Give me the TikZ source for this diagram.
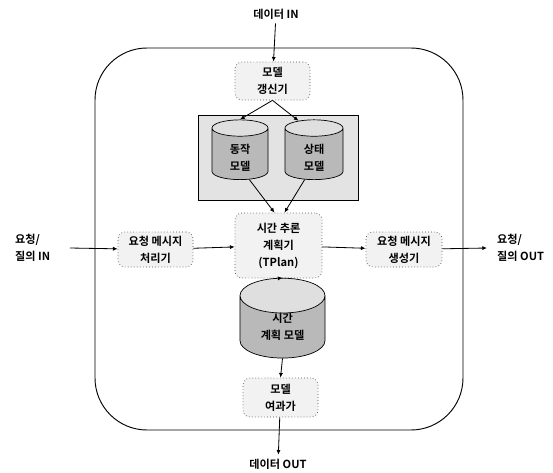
\documentclass[tikz,border=0pt]{standalone}
\usepackage{fontspec}
\setmainfont{Noto Sans CJK KR}[BoldFont={Noto Sans CJK KR Bold}]
\usetikzlibrary{shapes.geometric,arrows.meta}

\begin{document}
\begin{tikzpicture}[%
    x=0.03cm, y=-0.03cm,
    font=\fontsize{9.5}{14.5}\selectfont\bfseries,
    proc/.style={draw=black!70, dotted, line width=0.6pt, fill=gray!10, rounded corners=6pt, align=center, inner sep=1pt},
    store/.style={cylinder, shape border rotate=90, aspect=0.8, draw, line width=0.6pt, cylinder uses custom fill, cylinder body fill=gray!55, cylinder end fill=gray!25, align=center, inner sep=0pt},
    flow/.style={-{Latex[length=4pt,width=3.5pt]}, line width=0.7pt},
    ]
    \useasboundingbox (0,0) rectangle (553,473);
    \draw[line width=0.8pt, rounded corners=1.56cm] (95,48) rectangle (463,430);
    \node (datain) at (276,14) {데이터 IN};
    \node[proc, minimum width=2.25cm, minimum height=1.14cm] (updater) at (272.5,81) {모델\\갱신기};
    \node[draw, line width=0.6pt, fill=gray!22, minimum width=4.8cm, minimum height=2.55cm] (modelbox) at (278,157.5) {};
    \node[store, minimum width=1.68cm, minimum height=1.74cm] (dong) at (240,154) {\\동작\\모델};
    \node[store, minimum width=1.74cm, minimum height=1.74cm] (sang) at (314,154) {\\상태\\모델};
    \node[proc, minimum width=2.61cm, minimum height=1.95cm] (tplan) at (278.5,245.5) {시간 추론\\계획기\\(TPlan)};
    \node[proc, minimum width=2.25cm, minimum height=1.05cm] (recv) at (155.5,249.5) {요청 메시지\\처리기};
    \node[proc, minimum width=2.28cm, minimum height=1.05cm] (send) at (404,249.5) {요청 메시지\\생성기};
    \node[align=left, anchor=west, inner sep=0pt] (reqin) at (15,248) {요청/\\질의 IN};
    \node[align=left, anchor=west, inner sep=0pt] (reqout) at (497,248) {요청/\\질의 OUT};
    \node[store, minimum width=2.55cm, minimum height=1.8cm] (plan) at (282.5,327) {시간\\계획 모델};
    \node[proc, minimum width=2.25cm, minimum height=1.17cm] (filter) at (280.5,397.5) {모델\\여과가};
    \node (dataout) at (278,464) {데이터 OUT};
    \coordinate (inlstart) at (70,248);
    \coordinate (outend) at (487,248);
    \draw[flow] (datain) -- (updater);
    \draw[flow] (updater.south) -- (dong.north);
    \draw[flow] (updater.south) -- (sang.115);
    \draw[flow] (dong.-70) -- ([xshift=-0.12cm]tplan.north);
    \draw[flow] (sang.-110) -- ([xshift=0.18cm]tplan.north);
    \draw[flow] (inlstart) -- (recv);
    \draw[flow] (recv) -- (tplan);
    \draw[flow] (tplan) -- (send);
    \draw[flow] (send) -- (outend);
    \draw[flow] (tplan.south) -- (plan.north);
    \draw[flow] (plan.south) -- (filter.north);
    \draw[flow] (filter) -- (dataout);
\end{tikzpicture}
\end{document}
